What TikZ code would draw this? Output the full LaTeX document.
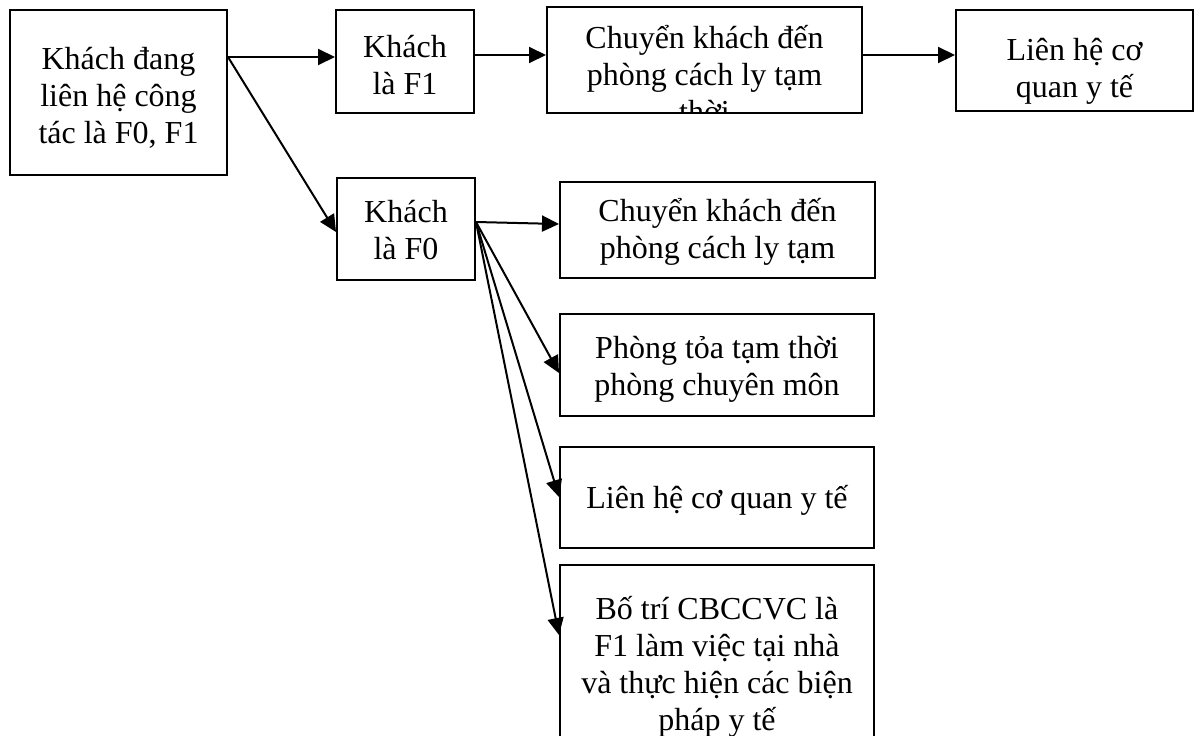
\documentclass[tikz,border=0pt]{standalone}
\usepackage{fontspec}
\setmainfont{Liberation Serif}
\usetikzlibrary{arrows.meta}
\newcommand\txtlines[2]{\raisebox{-#1}[\height][\depth]{\vbox{\halign{\hfil##\hfil\cr#2\crcr}}}}
\begin{document}
\begin{tikzpicture}[x=1pt,y=-1pt,
  box/.style={draw, line width=2pt, rectangle, inner sep=0pt,
     font=\fontsize{32}{37}\selectfont},
  arr/.style={line width=2pt, -{Triangle[length=17pt,width=16pt]}}]
\useasboundingbox (0,0) rectangle (1197,736);
\clip (0,0) rectangle (1197,736);
\fill[white] (0,0) rectangle (1197,736);
% first column
\node[box, minimum width=217pt, minimum height=165pt] (A) at (118.5,92.5)
  {\txtlines{5pt}{Khách đang\cr liên hệ công\cr tác là F0, F1}};
% top row
\node[box, minimum width=138pt, minimum height=103pt] (B) at (405,61.5)
  {\txtlines{3.5pt}{Khách\cr là F1}};
\node[box, minimum width=315pt, minimum height=106pt,
  path picture={\node[anchor=north, inner sep=0pt,
     font=\fontsize{32}{37}\selectfont]
     at ([yshift=-13pt]path picture bounding box.north)
     {\txtlines{0pt}{Chuyển khách đến\cr phòng cách ly tạm\cr thời}};}] (C) at (704.5,60) {};
\node[box, minimum width=237pt, minimum height=101pt] (D) at (1074.5,60.5)
  {\txtlines{10.5pt}{Liên hệ cơ\cr quan y tế}};
% F0 branch
\node[box, minimum width=138pt, minimum height=102pt] (E) at (406,229)
  {\txtlines{1pt}{Khách\cr là F0}};
\node[box, minimum width=315pt, minimum height=96pt] (F) at (717.5,230)
  {\txtlines{1.5pt}{Chuyển khách đến\cr phòng cách ly tạm}};
\node[box, minimum width=314pt, minimum height=102pt] (G) at (717,365)
  {\txtlines{4pt}{Phòng tỏa tạm thời\cr phòng chuyên môn}};
\node[box, minimum width=314pt, minimum height=101pt] (H) at (717,497.5)
  {\txtlines{3pt}{Liên hệ cơ quan y tế}};
\node[box, minimum width=314pt, minimum height=182pt] (I) at (717,656)
  {\txtlines{11pt}{Bố trí CBCCVC là\cr F1 làm việc tại nhà\cr và thực hiện các biện\cr pháp y tế}};
% connectors
\coordinate (Ao) at (A.east |- 0,57);
\coordinate (Eo) at (E.east |- 0,222);
\draw[arr] (Ao) -- (B.west |- Ao);
\draw[arr] (Ao) -- (E.west |- 0,232);
\draw[arr] (B.east |- 0,55) -- (C.west |- 0,55);
\draw[arr] (C.east |- 0,55) -- (D.west |- 0,55);
\draw[arr] (Eo) -- (F.west |- 0,224);
\draw[arr] (Eo) -- (G.west |- 0,373);
\draw[arr] (Eo) -- (H.west |- 0,497);
\draw[arr] (Eo) -- (I.west |- 0,635);
\end{tikzpicture}
\end{document}
